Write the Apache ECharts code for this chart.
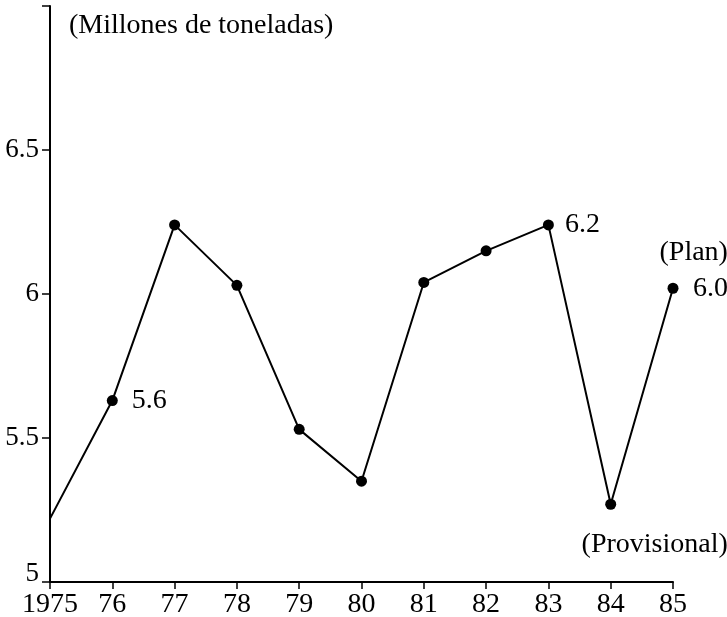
<!DOCTYPE html>
<html>
<head>
<meta charset="utf-8">
<script src="https://cdn.jsdelivr.net/npm/echarts@6/dist/echarts.min.js"></script>
<style>
  html, body { margin: 0; padding: 0; background: #fff; }
  #chart { width: 727px; height: 617px; }
</style>
</head>
<body>
<div id="chart"></div>
<script>
// años (eje x) y producción en millones de toneladas
const years = ["1975", "76", "77", "78", "79", "80", "81", "82", "83", "84", "85"];
const values = [5.22, 5.63, 6.24, 6.03, 5.53, 5.35, 6.04, 6.15, 6.24, 5.27, 6.02];
// etiquetas de puntos: índice -> texto
const pointLabels = { 1: "5.6", 8: "6.2" };
const yTicks = [5, 5.5, 6, 6.5, 7];

const FONT = "Liberation Serif";

const chart = echarts.init(document.getElementById("chart"));

const seriesData = values.map((v, i) => {
  const item = { value: v };
  if (i === 0) {
    item.symbol = "none";
  }
  if (pointLabels[i]) {
    item.label = { show: true, position: "right", distance: i === 1 ? 14 : 11, formatter: pointLabels[i] };
  }
  if (i === 9) {
    item.label = {
      show: true,
      position: "bottom",
      offset: [44, 16],
      formatter: "(Provisional)"
    };
  }
  if (i === 10) {
    item.label = {
      show: true,
      position: "right",
      offset: [-24, -18],
      formatter: "{p|(Plan)}\n{v|6.0}",
      rich: {
        p: { align: "right", fontFamily: FONT, fontSize: 28, color: "#000", lineHeight: 36 },
        v: { align: "right", fontFamily: FONT, fontSize: 28, color: "#000", lineHeight: 36 }
      }
    };
  }
  return item;
});

chart.setOption({
  animation: false,
  backgroundColor: "#fff",
  title: {
    text: "(Millones de toneladas)",
    left: 64,
    top: 7,
    textStyle: {
      fontFamily: FONT,
      fontWeight: "normal",
      fontSize: 28,
      color: "#000"
    }
  },
  grid: {
    left: 50,
    right: 54,
    top: 6,
    bottom: 35,
    containLabel: false,
    outerBoundsMode: "none"
  },
  xAxis: {
    type: "category",
    data: years,
    boundaryGap: false,
    axisLine: { lineStyle: { color: "#000", width: 2 } },
    axisTick: { show: true, length: 7, lineStyle: { color: "#000", width: 1.5 } },
    axisLabel: {
      color: "#000",
      fontFamily: FONT,
      fontSize: 28,
      margin: 9,
      interval: 0
    },
    splitLine: { show: false }
  },
  yAxis: {
    type: "value",
    min: yTicks[0],
    max: yTicks[yTicks.length - 1],
    interval: 0.5,
    axisLine: { show: true, lineStyle: { color: "#000", width: 2 } },
    axisTick: { show: true, length: 8, lineStyle: { color: "#000", width: 1.5 } },
    axisLabel: {
      color: "#000",
      fontFamily: FONT,
      fontSize: 27,
      margin: 11,
      formatter: (v) => (v === 7 ? "" : v === 5 ? "{low|5}" : String(v)),
      rich: {
        low: { fontFamily: FONT, fontSize: 27, color: "#000", padding: [0, 0, 16, 0] }
      }
    },
    splitLine: { show: false }
  },
  series: [
    {
      type: "line",
      data: seriesData,
      symbol: "circle",
      symbolSize: 11,
      showSymbol: true,
      itemStyle: { color: "#000" },
      lineStyle: { color: "#000", width: 2 },
      label: {
        show: false,
        color: "#000",
        fontFamily: FONT,
        fontSize: 28
      }
    }
  ]
});
</script>
</body>
</html>
